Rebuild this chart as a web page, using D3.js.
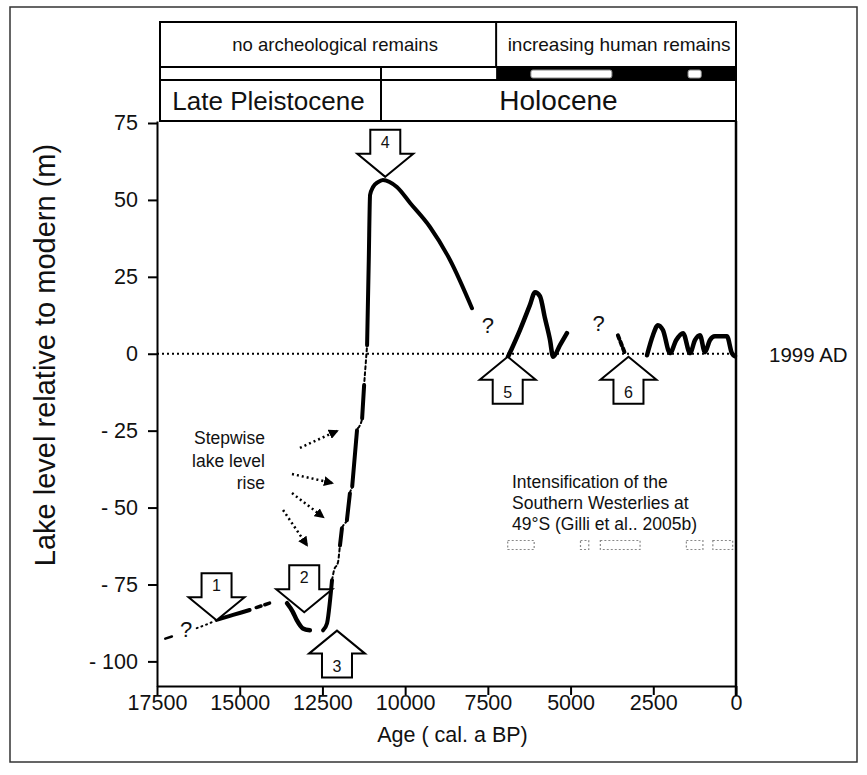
<!DOCTYPE html>
<html>
<head>
<meta charset="utf-8">
<script src="https://cdn.jsdelivr.net/npm/d3@7/dist/d3.min.js"></script>
<style>
body { margin: 0; background: #fff; }
svg text { font-family: "Liberation Sans", Arial, sans-serif; fill: #111; }
</style>
</head>
<body>
<svg width="867" height="775"></svg>
<script>
// axis ticks
var xTicks = [17500, 15000, 12500, 10000, 7500, 5000, 2500, 0];
var yTicks = [75, 50, 25, 0, -25, -50, -75, -100];

// top bands
var archeoLabels = ["no archeological remains", "increasing human remains"];
var archeoBreak = 7250;
var epochLabels = ["Late Pleistocene", "Holocene"];
var epochBreak = 10730;
var humanGapStart = [6200, 1450];
var humanGapEnd = [3750, 1050];

// lake level (age cal a BP, level m) - early, uncertain part
var earlyDashAge = [17250, 17050], earlyDashLvl = [-92.6, -91.9];
var earlyDotAge = [16300, 16000, 15750], earlyDotLvl = [-89.2, -88.0, -86.8];
var earlyAge = [15700, 15200, 14700], earlyLvl = [-86.5, -84.9, -83.3];
var earlyEndAge = [14500, 14050], earlyEndLvl = [-82.5, -80.9];

// lowstand (arrow 2)
var lowAge = [13570, 13400, 13270, 13090, 12880];
var lowLvl = [-81.1, -83.8, -86.7, -89.3, -89.9];

// stepwise rise and highstand
var riseAge = [12480, 12360, 12270, 12210, 12150, 12030, 11970, 11910, 11850, 11760, 11670, 11600, 11455, 11380, 11300, 11240, 11190, 11150, 11100, 11060, 10970, 10820, 10670, 10250, 9850, 9250, 8640, 7980];
var riseLvl = [-89.9, -87.6, -80.2, -73.6, -70.4, -67.8, -62.3, -56.7, -55.5, -54.1, -45.4, -43.1, -24.9, -23.5, -21.0, -10.2, -3.0, 2.8, 30.0, 51.6, 54.2, 55.8, 56.5, 54.2, 49.0, 41.2, 30.4, 14.8];
var riseSolid = [[0, 3], [6, 7], [9, 10], [11, 12], [14, 15], [17, 27]];

// mid holocene (arrow 5)
var midAge = [6890, 6530, 6230, 6075, 5925, 5775, 5620, 5530, 5320, 5110];
var midLvl = [-1.0, 7.7, 15.8, 20.0, 18.7, 11.6, 4.4, -1.0, 2.8, 6.7];

// late holocene (arrow 6)
var lateDashAge = [3570, 3360], lateDashLvl = [6.0, 0.2];
var lateAge = [2690, 2510, 2360, 2210, 1995, 1810, 1600, 1390, 1240, 1090, 940, 790, 640, 275, 125, 30];
var lateLvl = [-0.5, 6.0, 9.3, 7.7, 0.2, 4.4, 6.7, 0.2, 4.4, 6.0, 0.5, 4.4, 5.7, 5.7, 0.2, -0.8];

// numbered arrows
var arrowLabel = ["1", "2", "3", "4", "5", "6"];
var arrowAge = [15700, 13050, 12060, 10600, 6900, 3250];
var arrowLvl = [-86.6, -84.0, -90.0, 57.5, -1.0, -1.0];
var arrowDir = ["down", "down", "up", "down", "up", "up"];

// question marks
var qAge = [16620, 7500, 4150];
var qLvl = [-89.5, 9.5, 10.0];

// stepwise rise pointers
var stepFromAge = [13180, 13420, 13420, 13690];
var stepFromLvl = [-30.6, -39.1, -45.3, -50.8];
var stepToAge = [12060, 12210, 12480, 12970];
var stepToLvl = [-25.1, -42.0, -53.1, -62.2];

// westerlies intensification periods
var westStart = [6900, 4700, 4100, 1500, 700];
var westEnd = [6100, 4450, 2900, 1000, 100];
var westLvl = -62;

var svg = d3.select("svg");

var x = d3.scaleLinear().domain([17500, 0]).range([157, 736]);
var y = d3.scaleLinear().domain([-108, 75.65]).range([686, 121]);

var line = d3.line()
    .curve(d3.curveMonotoneX)
    .x(function(d) { return x(d[0]); })
    .y(function(d) { return y(d[1]); });

function pts(ages, lvls) {
    return ages.map(function(a, i) { return [a, lvls[i]]; });
}

// outer frame
svg.append("rect")
    .attr("x", 10).attr("y", 7).attr("width", 847).attr("height", 755)
    .attr("fill", "none").attr("stroke", "#333").attr("stroke-width", 1.5);

// bands
var bandL = 160, bandR = 736;
var rowTop = 22, row1 = 67, row2 = 80, row3 = 121;
var g = svg.append("g");

// stripe row
g.append("rect").attr("x", bandL).attr("y", row1).attr("width", x(archeoBreak) - bandL).attr("height", row2 - row1)
    .attr("fill", "#fff");
g.append("rect").attr("x", x(archeoBreak)).attr("y", row1).attr("width", bandR - x(archeoBreak)).attr("height", row2 - row1)
    .attr("fill", "#000");
for (var i = 0; i < humanGapStart.length; i++) {
    g.append("rect")
        .attr("x", x(humanGapStart[i])).attr("y", row1 + 3)
        .attr("width", x(humanGapEnd[i]) - x(humanGapStart[i])).attr("height", row2 - row1 - 5)
        .attr("rx", 2).attr("fill", "#fff").attr("stroke", "#888").attr("stroke-width", 1);
}

// band borders
g.append("rect").attr("x", bandL).attr("y", rowTop).attr("width", bandR - bandL).attr("height", row3 - rowTop)
    .attr("fill", "none").attr("stroke", "#000").attr("stroke-width", 2);
[row1, row2, row3].forEach(function(r) {
    g.append("line").attr("x1", bandL).attr("x2", bandR).attr("y1", r).attr("y2", r)
        .attr("stroke", "#000").attr("stroke-width", 2);
});
g.append("line").attr("x1", x(archeoBreak)).attr("x2", x(archeoBreak)).attr("y1", rowTop).attr("y2", row1)
    .attr("stroke", "#000").attr("stroke-width", 2);
g.append("line").attr("x1", x(epochBreak)).attr("x2", x(epochBreak)).attr("y1", row1).attr("y2", row3)
    .attr("stroke", "#000").attr("stroke-width", 2);

g.append("text").attr("x", (bandL + x(archeoBreak)) / 2 + 7).attr("y", 51)
    .attr("text-anchor", "middle").style("font-size", "18.5px").text(archeoLabels[0]);
g.append("text").attr("x", (x(archeoBreak) + bandR) / 2 + 3).attr("y", 51)
    .attr("text-anchor", "middle").style("font-size", "19px").text(archeoLabels[1]);
g.append("text").attr("x", (bandL + x(epochBreak)) / 2 - 2).attr("y", 110)
    .attr("text-anchor", "middle").style("font-size", "26px").text(epochLabels[0]);
g.append("text").attr("x", (x(epochBreak) + bandR) / 2).attr("y", 110)
    .attr("text-anchor", "middle").style("font-size", "28px").text(epochLabels[1]);

// axes
var yAxis = svg.append("g")
    .attr("transform", "translate(157,0)")
    .call(d3.axisLeft(y).tickValues(yTicks).tickSize(9).tickSizeOuter(0)
        .tickFormat(function(d) { return d < 0 ? "- " + (-d) : d; }));
var xAxis = svg.append("g")
    .attr("transform", "translate(0,686)")
    .call(d3.axisBottom(x).tickValues(xTicks).tickSize(9).tickSizeOuter(0)
        .tickFormat(d3.format("d")));
[yAxis, xAxis].forEach(function(a) {
    a.selectAll("path, line").attr("stroke", "#000").attr("stroke-width", 2);
    a.selectAll("text").style("font-size", "21.5px").attr("fill", "#111");
});
yAxis.selectAll("text").attr("x", -19);
xAxis.selectAll("text").attr("y", 9);

// right border
svg.append("line").attr("x1", 736).attr("x2", 736).attr("y1", row3).attr("y2", 696)
    .attr("stroke", "#000").attr("stroke-width", 2.5);

svg.append("text").attr("x", (157 + 736) / 2 + 6).attr("y", 742)
    .attr("text-anchor", "middle").style("font-size", "21.5px").text("Age ( cal. a BP)");
svg.append("text")
    .attr("transform", "translate(55,355) rotate(-90)")
    .attr("text-anchor", "middle").style("font-size", "29px").text("Lake level relative to modern (m)");

// 1999 AD line
svg.append("line").attr("x1", 157).attr("x2", 736).attr("y1", y(0)).attr("y2", y(0))
    .attr("stroke", "#000").attr("stroke-width", 2).attr("stroke-dasharray", "2,3");
svg.append("text").attr("x", 769).attr("y", y(0) + 8).style("font-size", "20.5px").text("1999 AD");

// curve
var curves = svg.append("g").attr("fill", "none").attr("stroke", "#000").attr("stroke-linecap", "round");

curves.append("path").attr("d", line(pts(earlyDashAge, earlyDashLvl))).attr("stroke-width", 2.5);
curves.append("path").attr("d", line(pts(earlyDotAge, earlyDotLvl))).attr("stroke-width", 2).attr("stroke-dasharray", "1,4");
curves.append("path").attr("d", line(pts(earlyAge, earlyLvl))).attr("stroke-width", 4);
curves.append("path").attr("d", line(pts(earlyEndAge, earlyEndLvl))).attr("stroke-width", 3.5).attr("stroke-dasharray", "5,4");

curves.append("path").attr("d", line(pts(lowAge, lowLvl))).attr("stroke-width", 4.5);

var rise = pts(riseAge, riseLvl);
curves.append("path").attr("d", line(rise.slice(3, 18))).attr("stroke-width", 2).attr("stroke-dasharray", "3,3");
riseSolid.forEach(function(r) {
    curves.append("path").attr("d", line(rise.slice(r[0], r[1] + 1))).attr("stroke-width", 4);
});

curves.append("path").attr("d", line(pts(midAge, midLvl))).attr("stroke-width", 4.5);
curves.append("path").attr("d", line(pts(lateDashAge, lateDashLvl))).attr("stroke-width", 4).attr("stroke-dasharray", "4,3");
curves.append("path").attr("d", line(pts(lateAge, lateLvl))).attr("stroke-width", 4.5);

// question marks
qAge.forEach(function(a, i) {
    svg.append("text").attr("x", x(a)).attr("y", y(qLvl[i]) + 8)
        .attr("text-anchor", "middle").style("font-size", "22px").text("?");
});

// numbered arrows
var bw = 30, bh = 24, hw = 56, hh = 23;
arrowLabel.forEach(function(lab, i) {
    var tx = x(arrowAge[i]), ty = y(arrowLvl[i]);
    var s = arrowDir[i] == "down" ? -1 : 1;
    var p = [
        [tx, ty], [tx + hw / 2, ty + s * hh], [tx + bw / 2, ty + s * hh], [tx + bw / 2, ty + s * (hh + bh)],
        [tx - bw / 2, ty + s * (hh + bh)], [tx - bw / 2, ty + s * hh], [tx - hw / 2, ty + s * hh]
    ];
    svg.append("path").attr("d", "M" + p.join("L") + "Z")
        .attr("fill", "#fff").attr("stroke", "#000").attr("stroke-width", 2).attr("stroke-linejoin", "miter");
    svg.append("text").attr("x", tx).attr("y", ty + s * (hh + bh / 2) + 6)
        .attr("text-anchor", "middle").style("font-size", "16px").text(lab);
});

// stepwise annotation
svg.append("defs").append("marker")
    .attr("id", "head").attr("viewBox", "0 0 10 10").attr("refX", 8).attr("refY", 5)
    .attr("markerWidth", 4).attr("markerHeight", 4).attr("orient", "auto")
    .append("path").attr("d", "M0,0L10,5L0,10Z").attr("fill", "#000");
stepFromAge.forEach(function(a, i) {
    svg.append("line")
        .attr("x1", x(a)).attr("y1", y(stepFromLvl[i]))
        .attr("x2", x(stepToAge[i])).attr("y2", y(stepToLvl[i]))
        .attr("stroke", "#000").attr("stroke-width", 2.5).attr("stroke-dasharray", "2,3")
        .attr("marker-end", "url(#head)");
});
["Stepwise", "lake level", "rise"].forEach(function(t, i) {
    svg.append("text").attr("x", 265).attr("y", 444 + i * 22.5)
        .attr("text-anchor", "end").style("font-size", "17.5px").text(t);
});

// westerlies
["Intensification of the", "Southern Westerlies at", "49°S (Gilli et al.. 2005b)"].forEach(function(t, i) {
    svg.append("text").attr("x", 512).attr("y", 488 + i * 21)
        .style("font-size", "17.5px").text(t);
});
westStart.forEach(function(a, i) {
    svg.append("rect")
        .attr("x", x(a)).attr("y", y(westLvl) - 4)
        .attr("width", x(westEnd[i]) - x(a)).attr("height", 9)
        .attr("fill", "none").attr("stroke", "#888").attr("stroke-width", 1.2).attr("stroke-dasharray", "2,2");
});
</script>
</body>
</html>
